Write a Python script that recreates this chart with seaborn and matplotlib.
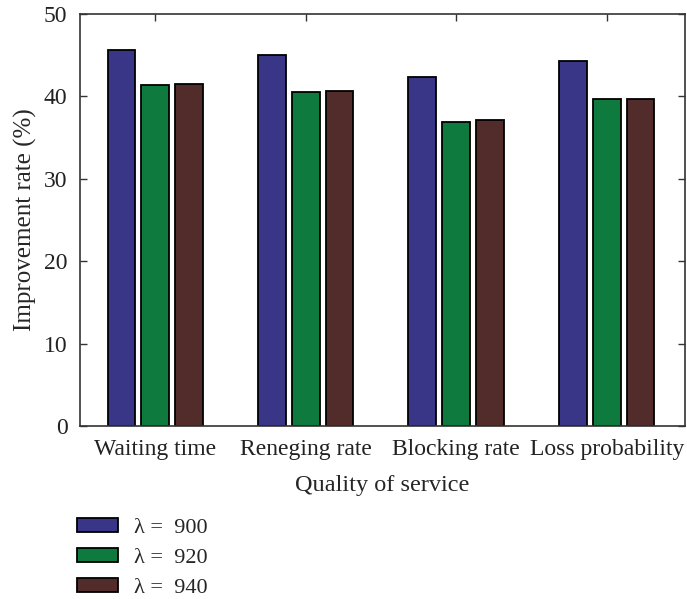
import matplotlib
matplotlib.use("Agg")
import matplotlib.pyplot as plt
import seaborn as sns
import pandas as pd

# Improvement rate (%) per QoS measure, for three arrival rates
categories = ["Waiting time", "Reneging rate", "Blocking rate", "Loss probability"]
lambda_labels = ["λ =  900", "λ =  920", "λ =  940"]
rate_900 = [45.6, 45.0, 42.3, 44.3]
rate_920 = [41.4, 40.5, 36.9, 39.7]
rate_940 = [41.5, 40.7, 37.1, 39.7]
colors = ["#3a3687", "#0f7a3d", "#512c2a"]
yticks = [0, 10, 20, 30, 40, 50]

rows = []
for lab, vals in zip(lambda_labels, [rate_900, rate_920, rate_940]):
    for cat, v in zip(categories, vals):
        rows.append({"QoS": cat, "rate": v, "series": lab})
df = pd.DataFrame(rows)

sns.set_theme(style="white")
plt.rcParams["font.family"] = ["Liberation Serif", "DejaVu Serif"]

fig = plt.figure(figsize=(6.87, 5.99), dpi=100)
ax = fig.add_axes([80 / 687, 1 - 426 / 599, 605 / 687, 412 / 599])

sns.barplot(data=df, x="QoS", y="rate", hue="series", order=categories,
            hue_order=lambda_labels, palette=colors, width=0.675, gap=0.18,
            edgecolor="black", linewidth=1.3, saturation=1, ax=ax, legend=True)

ax.set_xlim(-0.5, 3.52)
ax.set_ylim(0, 50)
ax.set_yticks(yticks)
ax.set_xlabel("Quality of service", fontsize=17.5, labelpad=11)
ax.set_ylabel("Improvement rate (%)", fontsize=18, labelpad=5)

for side in ["left", "right", "top", "bottom"]:
    ax.spines[side].set_visible(True)
    ax.spines[side].set_color("#333333")
    ax.spines[side].set_linewidth(1.2)

ax.tick_params(axis="y", which="both", direction="in", length=5, width=1,
               color="#333333", left=True, right=True, labelsize=17, pad=9,
               labelcolor="#222222")
ax.tick_params(axis="x", direction="in", length=5, width=1, color="#333333",
               bottom=False, top=True, labelsize=17, pad=9,
               labelcolor="#222222")

handles, labels = ax.get_legend_handles_labels()
ax.get_legend().remove()
fig.legend(handles, labels, loc="upper left",
           bbox_to_anchor=(68 / 687, 1 - 509 / 599), frameon=False,
           fontsize=16, handlelength=1.85, handleheight=0.62,
           handletextpad=0.7, labelspacing=0.45, borderaxespad=0)

fig.savefig("out.png", dpi=100, facecolor="white")
